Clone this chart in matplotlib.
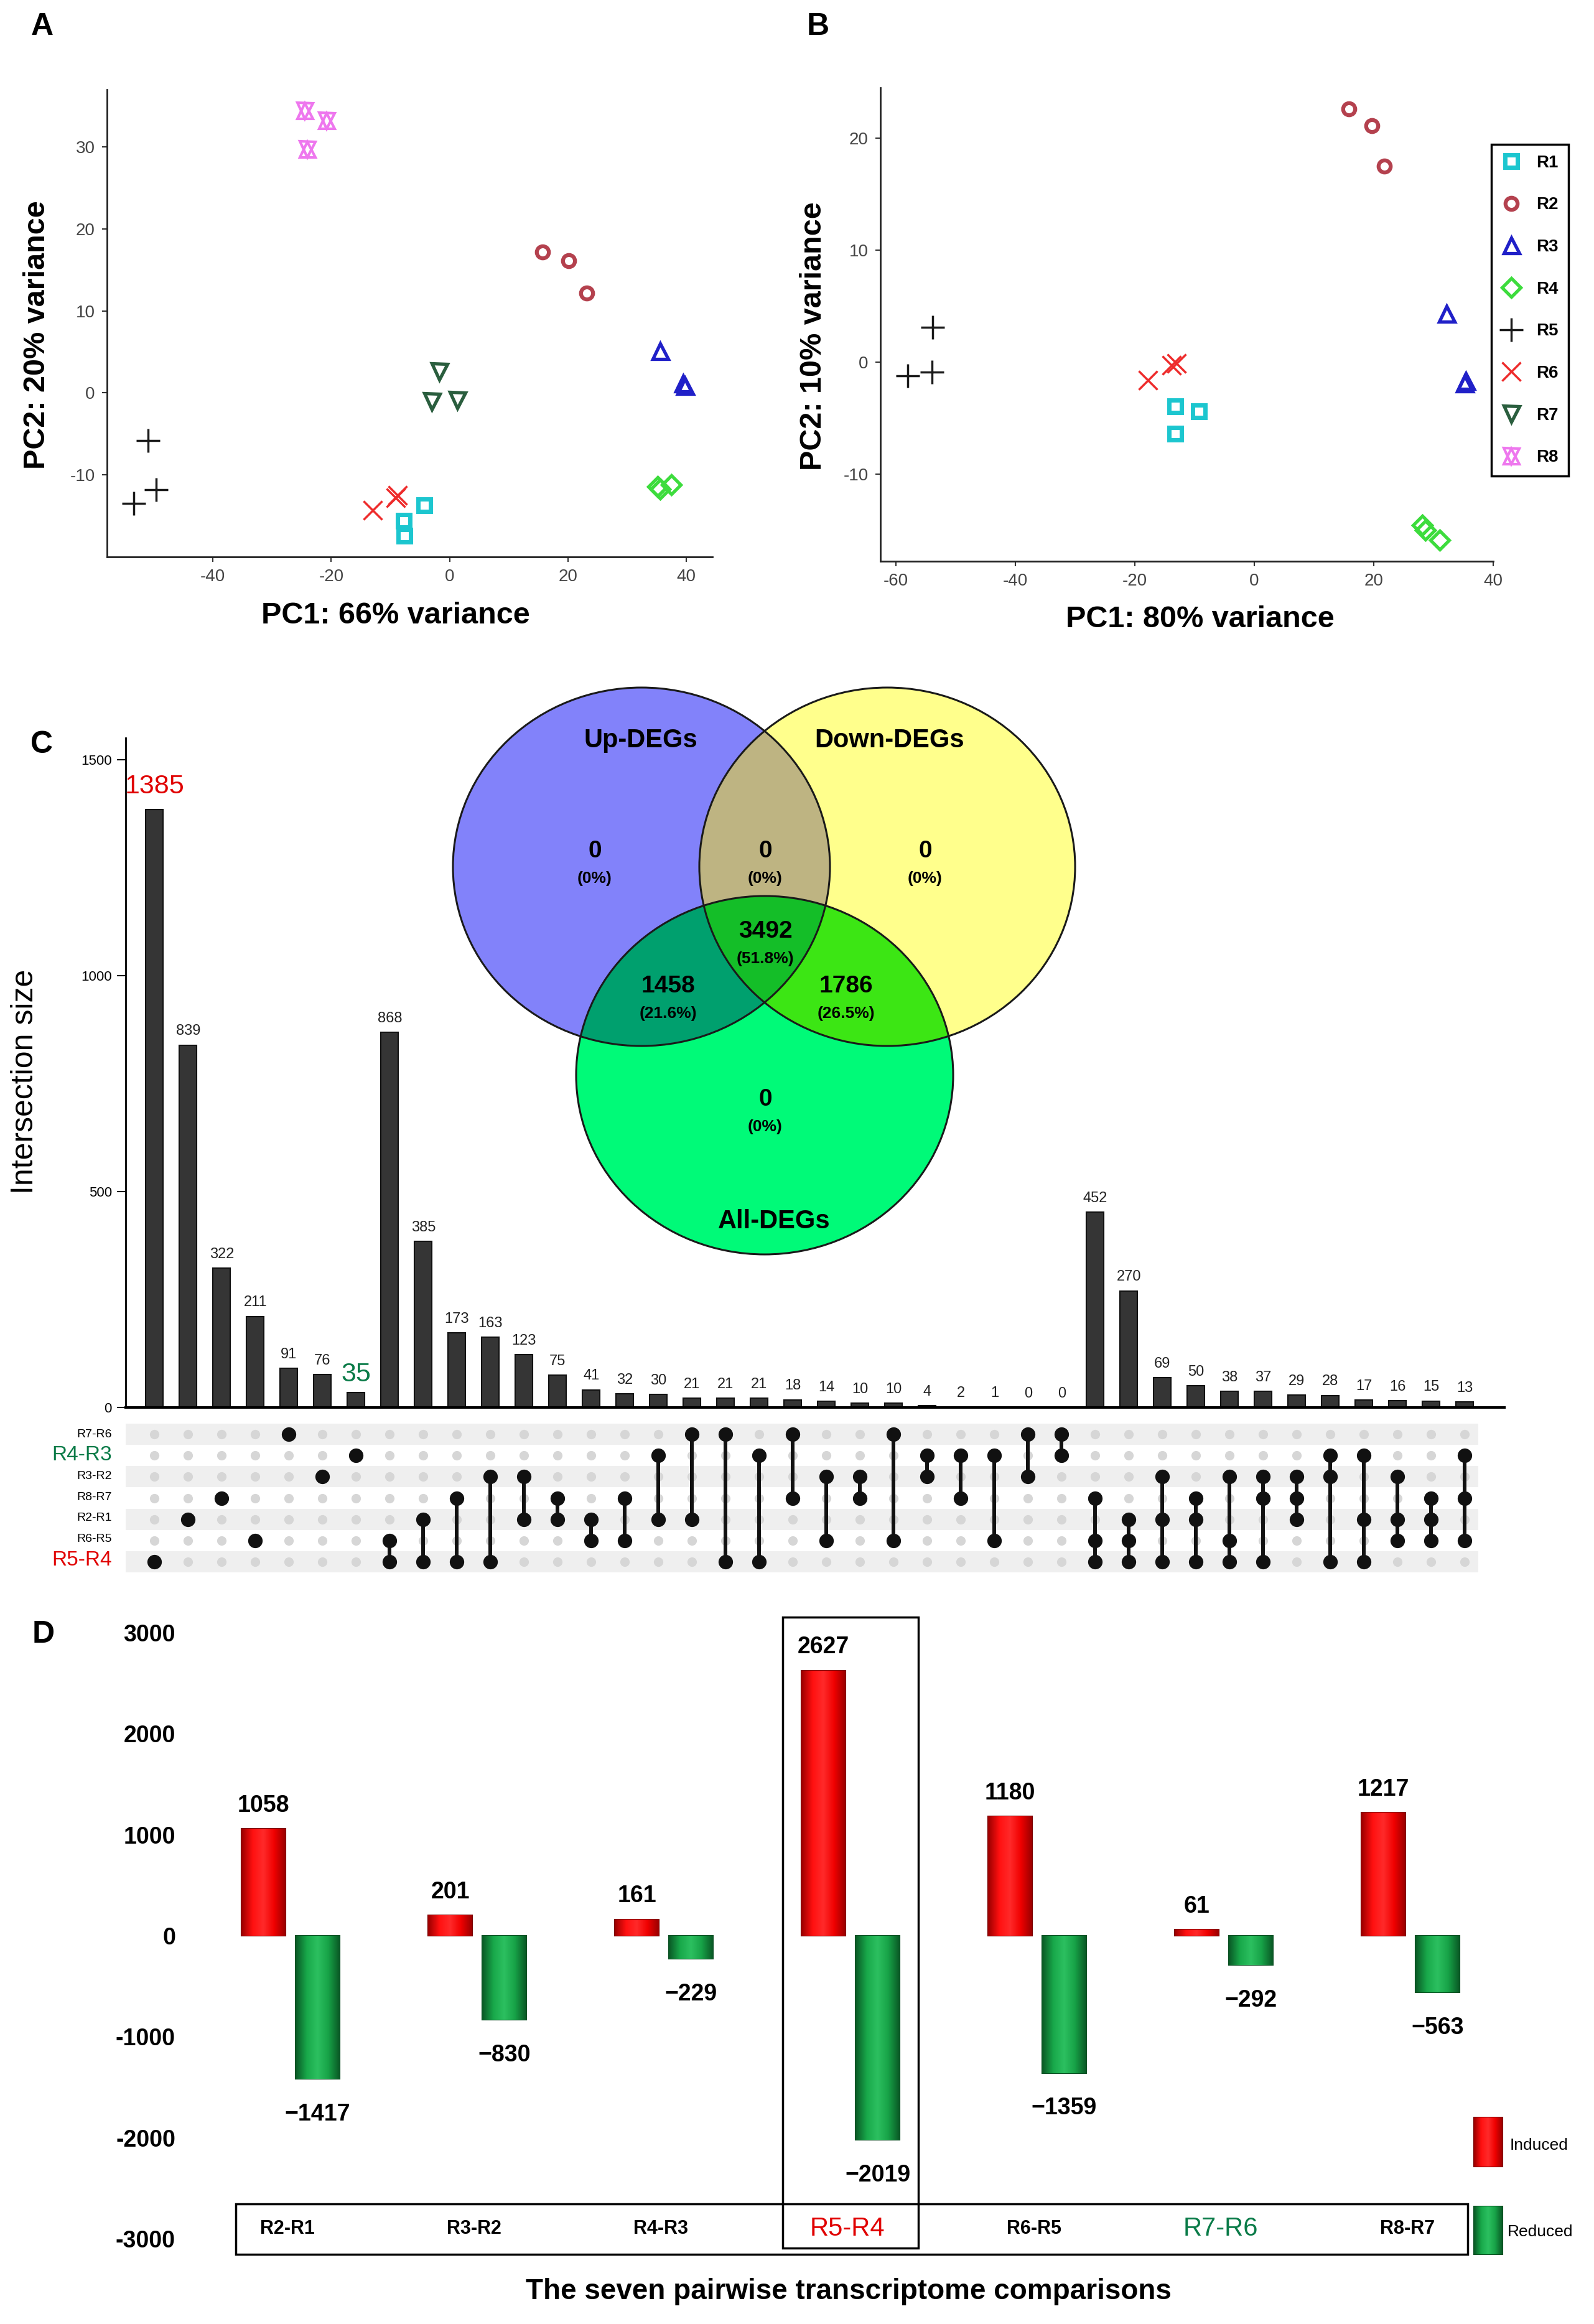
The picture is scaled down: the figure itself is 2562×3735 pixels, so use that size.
import matplotlib
matplotlib.use('Agg')
import matplotlib.pyplot as plt
import numpy as np
from matplotlib.patches import Rectangle, Ellipse
from matplotlib.lines import Line2D
from matplotlib.colors import LinearSegmentedColormap

plt.rcParams['font.family'] = ['Liberation Sans', 'DejaVu Sans']
plt.rcParams['axes.unicode_minus'] = False

W, H = 2562, 3735

# ---- data ----
groups = ['R1', 'R2', 'R3', 'R4', 'R5', 'R6', 'R7', 'R8']

pca_a_x = {'R1': [-4.3, -7.7, -7.6], 'R2': [15.7, 20.1, 23.2], 'R3': [35.6, 39.5, 39.8],
           'R4': [35.2, 37.5, 35.6], 'R5': [-51.0, -49.6, -53.4], 'R6': [-13.0, -9.1, -8.8],
           'R7': [-1.8, -3.0, 1.3], 'R8': [-24.5, -20.8, -24.0]}
pca_a_y = {'R1': [-13.7, -15.6, -17.4], 'R2': [17.2, 16.1, 12.2], 'R3': [5.1, 1.2, 0.9],
           'R4': [-11.4, -11.2, -11.7], 'R5': [-5.8, -11.8, -13.5], 'R6': [-14.3, -12.8, -12.5],
           'R7': [2.6, -1.05, -0.9], 'R8': [34.4, 33.2, 29.7]}

pca_b_x = {'R1': [-13.2, -9.3, -13.2], 'R2': [15.8, 19.7, 21.8], 'R3': [32.2, 35.4, 35.2],
           'R4': [28.1, 31.0, 28.6], 'R5': [-53.9, -58.0, -54.0], 'R6': [-17.8, -13.9, -13.0]}
pca_b_y = {'R1': [-3.95, -4.4, -6.4], 'R2': [22.6, 21.1, 17.5], 'R3': [4.35, -1.7, -1.9],
           'R4': [-14.6, -15.9, -15.0], 'R5': [3.1, -1.25, -0.9], 'R6': [-1.6, -0.3, -0.1]}

upset_sets = ['R7-R6', 'R4-R3', 'R3-R2', 'R8-R7', 'R2-R1', 'R6-R5', 'R5-R4']
upset_sizes = [1385, 839, 322, 211, 91, 76, 35, 868, 385, 173, 163, 123, 75, 41, 32, 30,
               21, 21, 21, 18, 14, 10, 10, 4, 2, 1, 0, 0, 452, 270, 69, 50, 38, 37, 29, 28,
               17, 16, 15, 13]
upset_members = [[6], [4], [3], [5], [0], [2], [1], [5, 6], [4, 6], [3, 6], [2, 6], [2, 4],
                 [3, 4], [4, 5], [3, 5], [1, 4], [0, 4], [0, 6], [1, 6], [0, 3], [2, 5],
                 [2, 3], [0, 5], [1, 2], [1, 3], [1, 5], [0, 2], [0, 1], [3, 5, 6], [4, 5, 6],
                 [2, 4, 6], [3, 4, 6], [2, 5, 6], [2, 3, 6], [2, 3, 4], [1, 2, 6], [1, 4, 6],
                 [2, 4, 5], [3, 4, 5], [1, 3, 5]]

venn_names = ['Up-DEGs', 'Down-DEGs', 'All-DEGs']
venn_counts = {'U': 0, 'UD': 0, 'D': 0, 'UDA': 3492, 'UA': 1458, 'DA': 1786, 'A': 0}
venn_pcts = {'U': '0%', 'UD': '0%', 'D': '0%', 'UDA': '51.8%', 'UA': '21.6%', 'DA': '26.5%', 'A': '0%'}

comparisons = ['R2-R1', 'R3-R2', 'R4-R3', 'R5-R4', 'R6-R5', 'R7-R6', 'R8-R7']
induced = [1058, 201, 161, 2627, 1180, 61, 1217]
reduced = [-1417, -830, -229, -2019, -1359, -292, -563]

# ---- figure ----
fig = plt.figure(figsize=(W / 100, H / 100), dpi=100)


def px_axes(l, t, r, b):
    return fig.add_axes([l / W, 1 - b / H, (r - l) / W, (b - t) / H])


styles = {
    'R1': dict(marker='s', color='#1cc6cf', ms=14, mfc='none', mew=5),
    'R2': dict(marker='o', color='#b4414e', ms=14, mfc='none', mew=4.5),
    'R3': dict(marker='^', color='#2020c8', ms=18, mfc='none', mew=3.8),
    'R4': dict(marker='D', color='#3ddc3d', ms=15, mfc='none', mew=3.8),
    'R5': dict(marker='+', color='#1a1a1a', ms=27, mew=2.5),
    'R6': dict(marker='x', color='#ee2b2b', ms=21, mew=2.5),
    'R7': dict(marker='v', color='#2a5e3e', ms=18, mfc='none', mew=3.8),
    'R8': dict(marker='^', color='#ee77ee', ms=18, mfc='none', mew=3),
}


def draw_group(ax, g, xs, ys):
    st = dict(styles[g])
    ax.plot(xs, ys, ls='none', **st)
    if g == 'R8':
        st['marker'] = 'v'
        ax.plot(xs, ys, ls='none', **st)


def pca_panel(ax, xd, yd, xlim, ylim, xticks, yticks):
    for g in groups:
        if g in xd:
            draw_group(ax, g, xd[g], yd[g])
    ax.set_xlim(xlim)
    ax.set_ylim(ylim)
    ax.set_xticks(xticks)
    ax.set_yticks(yticks)
    for s in ['top', 'right']:
        ax.spines[s].set_visible(False)
    for s in ['left', 'bottom']:
        ax.spines[s].set_linewidth(2)
        ax.spines[s].set_color('#222222')
    ax.tick_params(labelsize=20, labelcolor='#444444', length=6, width=1.5, color='#333333', pad=8)


ax_a = px_axes(172, 144, 1145, 895)
pca_panel(ax_a, pca_a_x, pca_a_y, (-57.9, 44.4), (-20, 37), [-40, -20, 0, 20, 40], [-10, 0, 10, 20, 30])

ax_b = px_axes(1415, 141, 2400, 902)
pca_panel(ax_b, pca_b_x, pca_b_y, (-62.6, 40), (-17.8, 24.5), [-60, -40, -20, 0, 20, 40], [-10, 0, 10, 20])

handles = []
for g in groups:
    st = dict(styles[g])
    h1 = Line2D([], [], ls='none', **st)
    if g == 'R8':
        st['marker'] = 'v'
        handles.append((h1, Line2D([], [], ls='none', **st)))
    else:
        handles.append(h1)
leg = ax_b.legend(handles, groups, loc='upper left', bbox_to_anchor=(2397 / W, 1 - 232 / H),
                  bbox_transform=fig.transFigure, frameon=True, fancybox=False, framealpha=1,
                  edgecolor='black', prop={'size': 20, 'weight': 'bold'}, labelspacing=1.5,
                  handlelength=1.1, handletextpad=0.9, borderpad=0.6, borderaxespad=0)
leg.get_frame().set_linewidth(2.5)

# ---- UpSet bars ----
ax_c = px_axes(202, 1186, 2418, 2262)
xi = np.arange(len(upset_sizes))
ax_c.bar(xi, upset_sizes, width=0.52, color='#353535', edgecolor='#111111', lw=1.5)
ax_c.set_xlim(-0.86, 40.18)
ax_c.set_ylim(0, 1550)
ax_c.set_xticks([])
ax_c.set_yticks([0, 500, 1000, 1500])
ax_c.tick_params(axis='y', labelsize=16, length=10, width=1.5, pad=6)
for s in ['top', 'right']:
    ax_c.spines[s].set_visible(False)
ax_c.spines['left'].set_linewidth(2)
ax_c.spines['bottom'].set_linewidth(3)
for i, v in enumerate(upset_sizes):
    if i == 0:
        ax_c.annotate(str(v), (i, v), xytext=(0, 12), textcoords='offset points',
                      ha='center', va='bottom', fontsize=31, color='#e00000')
    elif i == 6:
        ax_c.annotate(str(v), (i, v), xytext=(0, 6), textcoords='offset points',
                      ha='center', va='bottom', fontsize=31, color='#0a7b48')
    else:
        ax_c.annotate(str(v), (i, v), xytext=(0, 8), textcoords='offset points',
                      ha='center', va='bottom', fontsize=17, color='#222222')

# ---- UpSet matrix ----
ax_m = px_axes(202, 2285, 2418, 2530)
ax_m.set_xlim(-0.86, 40.18)
ax_m.set_ylim(6.6, -0.6)
ax_m.axis('off')
for r in range(0, 7, 2):
    ax_m.fill_between([-1.05, 39.4], r - 0.5, r + 0.5, color='#efefef', lw=0)
gx, gy = np.meshgrid(xi, np.arange(7))
ax_m.scatter(gx.ravel(), gy.ravel(), s=120, color='#d6d6d6', lw=0, zorder=2)
for i, mem in enumerate(upset_members):
    if len(mem) > 1:
        ax_m.plot([i, i], [min(mem), max(mem)], color='#111111', lw=4.3, zorder=3)
    ax_m.scatter([i] * len(mem), mem, s=280, color='#111111', lw=0, zorder=4)

# ---- panel D ----
ax_d = px_axes(300, 2624, 2380, 3598)
xd = np.arange(len(comparisons))
bars_up = ax_d.bar(xd - 0.145, induced, width=0.235, color='#f20a0a', edgecolor='#7a0000', lw=1.5)
bars_dn = ax_d.bar(xd + 0.145, reduced, width=0.235, color='#17a247', edgecolor='#0a4f22', lw=1.5)
# bevelled look: horizontal shading clipped to each bar
red_cm = LinearSegmentedColormap.from_list('redbev', ['#9c0000', '#ff1010', '#ff2a2a', '#f00000', '#9c0000'])
green_cm = LinearSegmentedColormap.from_list('grnbev', ['#0a5a26', '#18a84a', '#2cc060', '#17a247', '#0a5a26'])
grad = np.linspace(0, 1, 64).reshape(1, -1)
for bars, cm in [(bars_up, red_cm), (bars_dn, green_cm)]:
    for p in bars.patches:
        bx, by, bw, bh = p.get_x(), p.get_y(), p.get_width(), p.get_height()
        im = ax_d.imshow(grad, cmap=cm, extent=(bx, bx + bw, by, by + bh), aspect='auto',
                         interpolation='bicubic', zorder=p.get_zorder() + 0.1)
        im.set_clip_path(p)
ax_d.set_xlim(-0.557, 6.377)
ax_d.set_ylim(-3000, 3000)
ax_d.set_xticks([])
ax_d.set_yticks([-3000, -2000, -1000, 0, 1000, 2000, 3000])
ax_d.tick_params(axis='y', length=0, pad=13, labelsize=27)
for lab in ax_d.get_yticklabels():
    lab.set_fontweight('bold')
for s in ax_d.spines.values():
    s.set_visible(False)
for i in range(len(comparisons)):
    ax_d.annotate(str(induced[i]), (i - 0.145, induced[i]), xytext=(0, 14), textcoords='offset points',
                  ha='center', va='bottom', fontsize=27, weight='bold')
    ax_d.annotate('\u2212' + str(-reduced[i]), (i + 0.145, reduced[i]), xytext=(0, -28),
                  textcoords='offset points', ha='center', va='top', fontsize=27, weight='bold')

# ---- overlay (venn, letters, labels, boxes) ----
ov = px_axes(0, 0, W, H)
ov.set_xlim(0, W)
ov.set_ylim(H, 0)
ov.axis('off')
ov.patch.set_alpha(0)

circ = {'U': (1031, 1393, 303, 288), 'D': (1426, 1393, 302, 288), 'A': (1229, 1728, 303, 288)}
x0, x1, y0, y1 = 690, 1770, 1090, 2030
X, Y = np.meshgrid(np.linspace(x0, x1, 1080), np.linspace(y0, y1, 940))
inside = {k: ((X - c[0]) / c[2]) ** 2 + ((Y - c[1]) / c[3]) ** 2 <= 1 for k, c in circ.items()}
region_colors = {
    (1, 0, 0): (130, 130, 250), (0, 1, 0): (255, 255, 140), (0, 0, 1): (0, 250, 120),
    (1, 1, 0): (190, 180, 130), (1, 0, 1): (0, 160, 110), (0, 1, 1): (60, 230, 20),
    (1, 1, 1): (20, 190, 40),
}
img = np.zeros(X.shape + (4,))
for key, col in region_colors.items():
    m = (inside['U'] == bool(key[0])) & (inside['D'] == bool(key[1])) & (inside['A'] == bool(key[2]))
    img[m, :3] = np.array(col) / 255
    img[m, 3] = 1
ov.imshow(img, extent=(x0, x1, y1, y0), origin='upper', aspect='auto', interpolation='bilinear', zorder=1)
for k, c in circ.items():
    ov.add_patch(Ellipse((c[0], c[1]), 2 * c[2], 2 * c[3], fill=False, ec='#1a1a1a', lw=2.2, zorder=2))
ov.set_xlim(0, W)
ov.set_ylim(H, 0)

for name, (x, y) in zip(venn_names, [(1030, 1190), (1430, 1190), (1244, 1963)]):
    ov.text(x, y, name, ha='center', va='center', fontsize=30, weight='bold', zorder=3)
venn_pos = {'U': (956, 1368), 'UD': (1230, 1368), 'D': (1487, 1368), 'UDA': (1230, 1497),
            'UA': (1074, 1585), 'DA': (1360, 1585), 'A': (1230, 1767)}
for k, (x, y) in venn_pos.items():
    ov.text(x, y, str(venn_counts[k]), ha='center', va='center', fontsize=28, weight='bold', zorder=3)
    ov.text(x, y + 44, '(' + venn_pcts[k] + ')', ha='center', va='center', fontsize=19,
            weight='bold', zorder=3)

# panel letters
for letter, (x, y) in zip('ABCD', [(68, 43), (1315, 43), (67, 1197), (70, 2627)]):
    ov.text(x, y, letter, ha='center', va='center', fontsize=36, weight='bold')

# PCA axis labels
ov.text(636, 989, 'PC1: 66% variance', ha='center', va='center', fontsize=35, weight='bold')
ov.text(60, 538, 'PC2: 20% variance', ha='center', va='center', fontsize=35, weight='bold', rotation=90)
ov.text(1929, 995, 'PC1: 80% variance', ha='center', va='center', fontsize=35, weight='bold')
ov.text(1308, 540, 'PC2: 10% variance', ha='center', va='center', fontsize=35, weight='bold', rotation=90)

# UpSet labels
ov.text(40, 1738, 'Intersection size', ha='center', va='center', fontsize=36, rotation=90)
for r, name in enumerate(upset_sets):
    y = 2305 + 33.7 * r
    if r == 1:
        ov.text(180, y, name, ha='right', va='center', fontsize=24, color='#0a7b48')
    elif r == 6:
        ov.text(180, y, name, ha='right', va='center', fontsize=24, color='#e00000')
    else:
        ov.text(180, y, name, ha='right', va='center', fontsize=14)

# panel D labels and boxes
ov.add_patch(Rectangle((379, 3542), 2359 - 379, 3623 - 3542, fill=False, ec='black', lw=2.5))
ov.add_patch(Rectangle((1258, 2599), 1476 - 1258, 3613 - 2599, fill=False, ec='black', lw=2.5))
for i, name in enumerate(comparisons):
    x = 467 + 300 * i - 5
    if name == 'R5-R4':
        ov.text(x, 3582, name, ha='center', va='center', fontsize=30, color='#e00000')
    elif name == 'R7-R6':
        ov.text(x, 3582, name, ha='center', va='center', fontsize=30, color='#0a7b48')
    else:
        ov.text(x, 3582, name, ha='center', va='center', fontsize=22, weight='bold')
ov.text(1364, 3683, 'The seven pairwise transcriptome comparisons', ha='center', va='center',
        fontsize=33, weight='bold')
sw_r = ov.add_patch(Rectangle((2369, 3403), 46, 79, fc='#f20a0a', ec='#7a0000', lw=1.5))
sw_g = ov.add_patch(Rectangle((2369, 3546), 46, 77, fc='#17a247', ec='#0a4f22', lw=1.5))
for p, cm in [(sw_r, red_cm), (sw_g, green_cm)]:
    bx, by, bw, bh = p.get_x(), p.get_y(), p.get_width(), p.get_height()
    im = ov.imshow(grad, cmap=cm, extent=(bx, bx + bw, by + bh, by), aspect='auto',
                   interpolation='bicubic', zorder=p.get_zorder() + 0.1)
    im.set_clip_path(p)
ov.set_xlim(0, W)
ov.set_ylim(H, 0)
ov.text(2427, 3448, 'Induced', ha='left', va='center', fontsize=19)
ov.text(2423, 3587, 'Reduced', ha='left', va='center', fontsize=19)

fig.savefig('out.png', dpi=100)
